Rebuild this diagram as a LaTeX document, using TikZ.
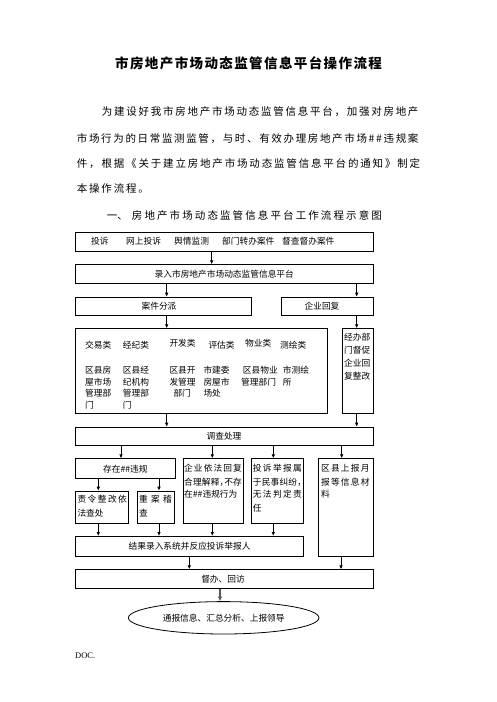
\documentclass[tikz,border=0pt]{standalone}
\usepackage{fontspec}
\setmainfont{Liberation Serif}
\newfontfamily\cjk{Noto Sans CJK SC}
\usetikzlibrary{arrows.meta,shapes.geometric}
\makeatletter
\def\spr@start#1{#1\spr@}
\def\spr@#1{\ifx\relax#1\expandafter\@gobble\else\expandafter\@firstofone\fi{\hskip0pt plus 1fil\relax#1\spr@}}
\newcommand\spreadto[2]{\makebox[#1][s]{\spr@start#2\relax}}
\makeatother
\newcommand\nc{\makebox[4.5pt][l]{，}}
\begin{document}
\begin{tikzpicture}[x=1pt,y=-1pt,
  box/.style={draw, line width=0.8pt, inner sep=0pt, anchor=north west},
  t/.style={font=\cjk\fontsize{8.7}{10}\selectfont, inner sep=0pt, anchor=base west},
  tc/.style={font=\cjk\fontsize{8.7}{10}\selectfont, inner sep=0pt},
  para/.style={font=\cjk\fontsize{10.5}{12}\selectfont, inner sep=0pt, anchor=base west},
  arr/.style={-{Latex[length=4pt,width=3.6pt]}, line width=0.8pt},
  garr/.style={-{Latex[length=4.5pt,width=4.5pt]}, line width=1.4pt, draw=black!65, fill=black!65}]
\useasboundingbox (0,0) rectangle (496,702);
\fill[white] (0,0) rectangle (496,702);

% title and paragraph
\node[anchor=base west, inner sep=0pt, font=\cjk\bfseries\fontsize{13.5}{14}\selectfont] (title) at (115,68.4)
  {\spreadto{266.7pt}{市房地产市场动态监管信息平台操作流程}};
\node[para] (p1) at (101.7,115.7) {\spreadto{316.6pt}{为建设好我市房地产市场动态监管信息平台，加强对房地产}};
\node[para] (p2) at (76.7,142.3) {\spreadto{341.6pt}{市场行为的日常监测监管，与时、有效办理房地产市场\#\#违规案}};
\node[para] (p3) at (76.7,167.5) {\spreadto{343.3pt}{件，根据《关于建立房地产市场动态监管信息平台的通知》制定}};
\node[para] (p4) at (76.7,192.3) {\spreadto{72pt}{本操作流程。}};
\node[para] (h1) at (106.7,219) {一、};
\node[para] (h2) at (131.7,219) {\spreadto{250pt}{房地产市场动态监管信息平台工作流程示意图}};

% boxes
\node[box, minimum width=297.7pt, minimum height=19pt] (b1) at (75,231.7) {};
\node[box, minimum width=297.7pt, minimum height=18.4pt] (b2) at (75,264.3) {};
\node[box, minimum width=175.7pt, minimum height=18.3pt] (b3a) at (75,296.7) {};
\node[box, minimum width=92pt, minimum height=18.3pt] (b3b) at (280.7,296.7) {};
\node[box, minimum width=251.7pt, minimum height=85pt] (b4a) at (75,328.3) {};
\node[box, minimum width=31pt, minimum height=85pt] (b4b) at (341.7,328.3) {};
\node[box, minimum width=297.7pt, minimum height=18.3pt] (b5) at (75,426.7) {};
\node[box, minimum width=100pt, minimum height=20pt] (b6a) at (75,458.3) {};
\node[box, minimum width=60pt, minimum height=65pt] (b6b) at (182.7,458.3) {};
\node[box, minimum width=52.6pt, minimum height=65pt] (b6c) at (250.7,458.3) {};
\node[box, minimum width=54.4pt, minimum height=97.7pt] (b6d) at (318.3,458.3) {};
\node[box, minimum width=53.3pt, minimum height=32.6pt] (b7a) at (75,490.7) {};
\node[box, minimum width=37.6pt, minimum height=32.6pt] (b7b) at (136.7,490.7) {};
\node[box, minimum width=228.3pt, minimum height=20pt] (b8) at (75,536) {};
\node[box, minimum width=297.7pt, minimum height=19pt] (b9) at (75,569.3) {};
\node[draw, line width=0.8pt, ellipse, inner sep=0pt, minimum width=190.6pt, minimum height=32.4pt] (ell) at (223.7,617.8) {};

% box texts
\node[t] (w1) at (91,244.3) {投诉};
\node[t] (w2) at (126,244.3) {网上投诉};
\node[t] (w3) at (174,244.3) {舆情监测};
\node[t] (w4) at (222,244.3) {部门转办案件};
\node[t] (w5) at (282,244.3) {督查督办案件};
\node[tc] (t2) at (b2.center) {录入市房地产市场动态监管信息平台};
\node[tc] (t3a) at (159,305.9) {案件分派};
\node[tc] (t3b) at (322,305.9) {企业回复};

\node[t] (k1) at (85,348.3) {交易类};
\node[t] (k2) at (122.7,348.3) {经纪类};
\node[t] (k3) at (169.3,346.6) {开发类};
\node[t] (k4) at (208.3,348.3) {评估类};
\node[t] (k5) at (245,346.6) {物业类};
\node[t] (k6) at (280,348.3) {测绘类};

\node[t] (d11) at (85,373.3) {区县房};
\node[t] (d12) at (85,385) {屋市场};
\node[t] (d13) at (85,396.6) {管理部};
\node[t] (d14) at (85,408.3) {门};
\node[t] (d21) at (122.7,373.3) {区县经};
\node[t] (d22) at (122.7,385) {纪机构};
\node[t] (d23) at (122.7,396.6) {管理部};
\node[t] (d24) at (122.7,408.3) {门};
\node[t] (d31) at (169.3,373.3) {区县开};
\node[t] (d32) at (169.3,385) {发管理};
\node[t] (d33) at (173.3,396.6) {部门};
\node[t] (d41) at (203.3,373.3) {市建委};
\node[t] (d42) at (203.3,385) {房屋市};
\node[t] (d43) at (203.3,396.6) {场处};
\node[t] (d51) at (242.7,373.3) {区县物业};
\node[t] (d52) at (241,385) {管理部门};
\node[t] (d61) at (282.7,373.3) {市测绘};
\node[t] (d62) at (282.7,385) {所};

\node[t] (e1) at (344,340.3) {经办部};
\node[t] (e2) at (344,353.3) {门督促};
\node[t] (e3) at (344,366.3) {企业回};
\node[t] (e4) at (344,379.3) {复整改};

\node[tc] (t5) at (224,435.9) {调查处理};
\node[tc] (t6a) at (b6a.center) {存在\#\#违规};

\node[t] (f11) at (77.3,502.3) {\spreadto{49.4pt}{责令整改依}};
\node[t] (f12) at (77.3,516) {法查处};
\node[t] (f21) at (139,502.3) {\spreadto{32.7pt}{重案稽}};
\node[t] (f22) at (139,516) {查};

\node[t] (g11) at (184,471.6) {\spreadto{57.7pt}{企业依法回复}};
\node[t] (g12) at (184,485) {\spreadto{57.7pt}{合理解释\nc 不存}};
\node[t] (g13) at (184,497.3) {在\#\#违规行为};
\node[t] (g21) at (252.7,471.6) {\spreadto{49pt}{投诉举报属}};
\node[t] (g22) at (252.7,485) {\spreadto{49pt}{于民事纠纷\nc}};
\node[t] (g23) at (252.7,497.3) {\spreadto{49pt}{无法判定责}};
\node[t] (g24) at (252.7,511.3) {任};
\node[t] (g31) at (321,471.6) {\spreadto{48.3pt}{区县上报月}};
\node[t] (g32) at (321,485) {\spreadto{48.3pt}{报等信息材}};
\node[t] (g33) at (321,497.3) {料};

\node[tc] (t8) at (b8.center) {结果录入系统并反应投诉举报人};
\node[tc] (t9) at (223,578.8) {督办、回访};
\node[tc] (te) at (ell.center) {通报信息、汇总分析、上报领导};

\node[anchor=base west, inner sep=0pt, font=\fontsize{8.5}{10}\selectfont] (doc) at (75,658) {DOC.};

% connectors
\draw[arr] (b1.south -| 211.7,0) -- (b2.north -| 211.7,0);
\draw[arr] (b2.south -| 166.7,0) -- (b3a.north -| 166.7,0);
\draw[arr] (b2.south -| 356.7,0) -- (b3b.north -| 356.7,0);
\draw[arr] (b3a.south -| 166.7,0) -- (b4a.north -| 166.7,0);
\draw[arr] (b3b.south -| 356.7,0) -- (b4b.north -| 356.7,0);
\draw[arr] (b4a.south -| 166.7,0) -- (b5.north -| 166.7,0);
\draw[arr] (b4b.south -| 356.7,0) -- (b5.north -| 356.7,0);
\draw[arr] (b5.south -| 121,0) -- (b6a.north -| 121,0);
\draw[arr] (b5.south -| 212.3,0) -- (b6b.north -| 212.3,0);
\draw[arr] (b5.south -| 273.3,0) -- (b6c.north -| 273.3,0);
\draw[arr] (b5.south -| 341.7,0) -- (b6d.north -| 341.7,0);
\draw[arr] (b6a.south -| 98.3,0) -- (b7a.north -| 98.3,0);
\draw[arr] (b6a.south -| 159,0) -- (b7b.north -| 159,0);
\draw[arr] (b7a.south -| 98.3,0) -- (b8.north -| 98.3,0);
\draw[arr] (b7b.south -| 159,0) -- (b8.north -| 159,0);
\draw[arr] (b6b.south -| 212.3,0) -- (b8.north -| 212.3,0);
\draw[arr] (b6c.south -| 273.3,0) -- (b8.north -| 273.3,0);
\draw[arr] (b8.south -| 189.3,0) -- (b9.north -| 189.3,0);
\draw[arr] (b6d.south -| 341,0) -- (b9.north -| 341,0);
\draw[garr] (b9.south -| 220,0) -- (ell.north -| 220,0);
\end{tikzpicture}
\end{document}
